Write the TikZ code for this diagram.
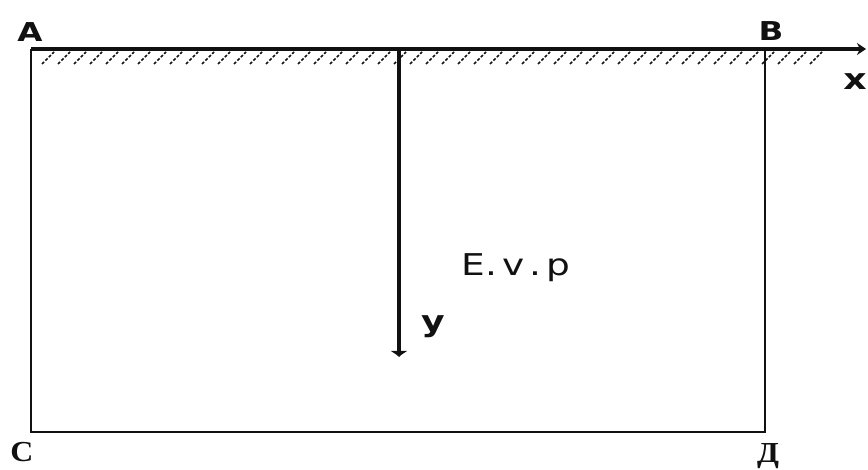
\documentclass[tikz,border=0pt]{standalone}
\usepackage{fontspec}
\usepackage{tikz}
\usetikzlibrary{arrows.meta, positioning}
\newfontfamily\lblfont[FakeStretch=1.25]{DejaVu Sans}
\newfontfamily\serlblfont[FakeStretch=1.1]{Liberation Serif}
\definecolor{beamblack}{HTML}{111111}
\tikzset{
  cornerlbl/.style={font=\fontsize{26}{28}\selectfont\lblfont\bfseries, text=beamblack, inner sep=0pt},
  baselbl/.style={font=\fontsize{29}{31}\selectfont\serlblfont\bfseries, text=beamblack, inner sep=0pt},
  axislbl/.style={font=\fontsize{29}{31}\selectfont\lblfont\bfseries, text=beamblack, inner sep=0pt},
  frameline/.style={draw=beamblack, line width=2.2pt},
  axisline/.style={draw=beamblack, line width=3.2pt},
  hatchline/.style={draw=beamblack, line width=1.5pt, dash pattern=on 3pt off 1.8pt}
}

\begin{document}
\begin{tikzpicture}[x=1pt, y=-1pt]
      \useasboundingbox (0,0) rectangle (868,470);
      % corners of the block
      \coordinate (cA) at (31,49);
      \coordinate (cB) at (765,49);
      \coordinate (cC) at (31,432);
      \coordinate (cD) at (765,432);
      \coordinate (xend) at (866,49);
      \coordinate (ytop) at (399,49);
      \coordinate (yend) at (399,357);
      % hatching under the surface
      \foreach \hx in {42,58,...,820}
        \draw[hatchline] (\hx,64) -- ++(12,-12);
      \draw[frameline] (cA) -- (cC) -- (cD) -- (cB);
      \draw[axisline, -{Stealth[length=9pt, width=12pt]}] (cA) -- (xend);
      \draw[axisline, -{Latex[length=6pt, width=18pt]}] (ytop) -- (yend);
      % labels
      \node[cornerlbl] (lA) at (30,32) {A};
      \node[cornerlbl] (lB) at (771,31) {B};
      \node[baselbl] (lC) at (22,452) {C};
      \node[baselbl] (lD) at (768,456) {Д};
      \node[axislbl] (lx) at (855,82) {x};
      \node[axislbl] (ly) at (433,327) {y};
      \node[font=\fontsize{30}{32}\selectfont\lblfont, text=beamblack, inner sep=0pt]
            (lmat) at (516,268) {E.\,v\,.\,p};
\end{tikzpicture}
\end{document}
